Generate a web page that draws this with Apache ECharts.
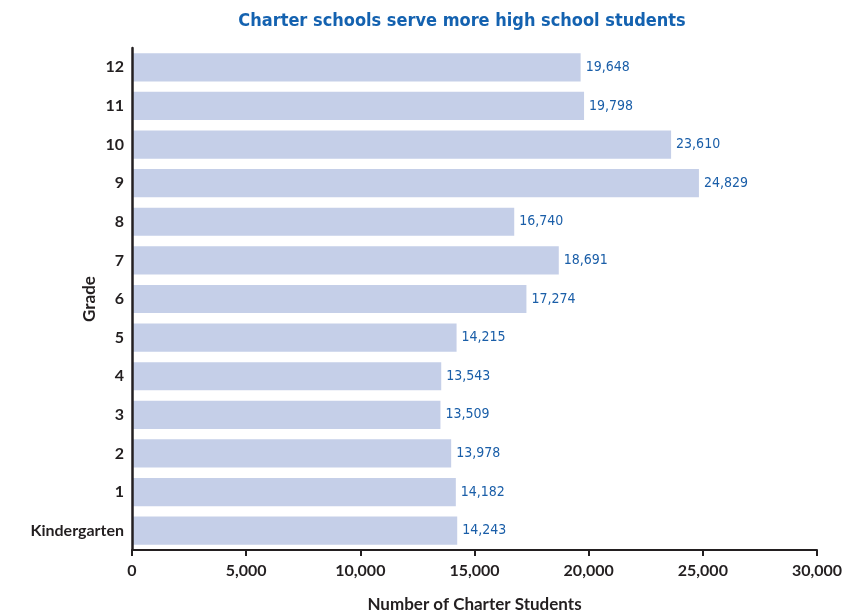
<!DOCTYPE html>
<html>
<head>
<meta charset="utf-8">
<script src="https://cdn.jsdelivr.net/npm/echarts@6/dist/echarts.min.js"></script>
<style>
html,body{margin:0;padding:0;background:#fff;}
#chart{width:843px;height:615px;}
</style>
</head>
<body>
<div id="chart"></div>
<script>
// grades bottom -> top
var grades = ['Kindergarten', '1', '2', '3', '4', '5', '6', '7', '8', '9', '10', '11', '12'];
var students = [14243, 14182, 13978, 13509, 13543, 14215, 17274, 18691, 16740, 24829, 23610, 19798, 19648];
var xTicks = [0, 5000, 10000, 15000, 20000, 25000, 30000];

var chart = echarts.init(document.getElementById('chart'));
var narrow = '"DejaVu Sans Condensed", "Liberation Sans Narrow", Roboto, sans-serif';

function fmt(v){
	return v.toString().replace(/\B(?=(\d{3})+(?!\d))/g, ',');
}

var options = {
	animation: false,
	title: {
		text: 'Charter schools serve more high school students',
		left: 457,
		textAlign: 'center',
		top: 7,
		textStyle: {
			fontFamily: narrow,
			fontWeight: 'bold',
			fontSize: 18,
			color: '#1462b0'
		}
	},
	grid: {
		left: 132,
		right: 26,
		top: 48,
		bottom: 65,
		containLabel: false,
		outerBoundsMode: 'none'
	},
	xAxis: {
		type: 'value',
		min: xTicks[0],
		max: xTicks[xTicks.length - 1],
		interval: 5000,
		name: 'Number of Charter Students',
		nameLocation: 'middle',
		nameGap: 46,
		nameMoveOverlap: false,
		nameTextStyle: {
			fontFamily: 'Lato',
			fontWeight: 'bold',
			fontSize: 17,
			color: '#231f20'
		},
		axisLine: {show: true, lineStyle: {color: '#231f20', width: 2}},
		axisTick: {show: true, length: 6, lineStyle: {color: '#231f20', width: 2}},
		splitLine: {show: false},
		axisLabel: {
			margin: 13,
			fontFamily: 'Lato',
			fontWeight: 'bold',
			fontSize: 16,
			color: '#231f20',
			formatter: function(v){ return fmt(v); }
		}
	},
	yAxis: {
		type: 'category',
		data: grades,
		z: 10,
		name: 'Grade',
		nameLocation: 'middle',
		nameGap: 34,
		nameMoveOverlap: false,
		nameRotate: 90,
		nameTextStyle: {
			fontFamily: 'Lato',
			fontWeight: 'bold',
			fontSize: 17,
			color: '#231f20'
		},
		axisLine: {show: true, lineStyle: {color: '#231f20', width: 2.5}},
		axisTick: {show: false},
		axisLabel: {
			margin: 8,
			fontFamily: 'Lato',
			fontWeight: 'bold',
			fontSize: 16,
			color: '#231f20'
		}
	},
	series: [{
		type: 'bar',
		data: students,
		barWidth: '73%',
		itemStyle: {color: '#c5cfe8'},
		label: {
			show: true,
			position: 'right',
			distance: 5,
			fontFamily: narrow,
			fontSize: 14,
			color: '#1a5ea8',
			formatter: function(p){ return fmt(p.value); }
		}
	}]
};
chart.setOption(options);
</script>
</body>
</html>
